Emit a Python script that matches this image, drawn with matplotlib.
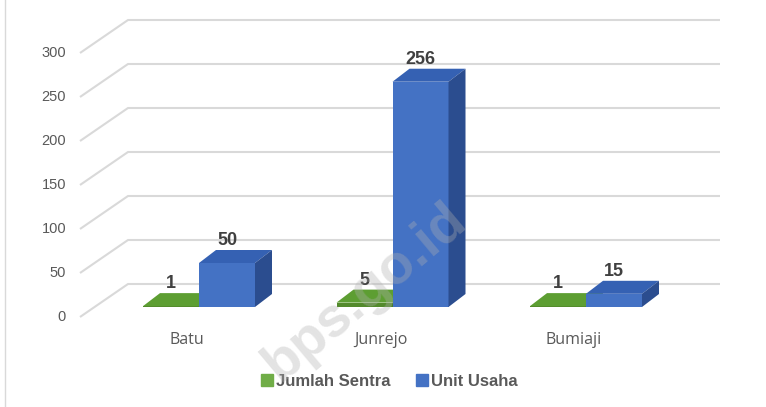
import matplotlib
matplotlib.use("Agg")
import matplotlib.pyplot as plt
from matplotlib.patches import Polygon
from matplotlib.lines import Line2D

categories = ["Batu", "Junrejo", "Bumiaji"]
jumlah_sentra = [1, 5, 1]
unit_usaha = [50, 256, 15]
y_ticks = [0, 50, 100, 150, 200, 250, 300]

W, H = 766, 407
fig = plt.figure(figsize=(W / 100, H / 100), dpi=100)
ax = fig.add_axes([0, 0, 1, 1])
ax.axis("off")

# data-space frame: 1 category = 193.5 px, 1 unit = 0.88 px
xpx, ypx = 193.5, 0.88
x0px, y0px = 187, 317
ax.set_xlim(-x0px / xpx, (W - x0px) / xpx)
ax.set_ylim(-(H - y0px) / ypx, y0px / ypx)

# perspective offsets (in data units)
wall_dx, wall_dy = 48 / xpx, 33 / ypx      # front plane -> back wall
bar_ox, bar_oy = 12 / xpx, 10 / ypx        # front plane -> bar front face
dep_dx, dep_dy = 17 / xpx, 13 / ypx        # bar depth
bw = 56 / xpx                               # bar width
front_left = (80 - x0px) / xpx
back_right = (720 - x0px) / xpx

grid_c = "#d9d9d9"
for t in y_ticks:
    ax.plot([front_left, front_left + wall_dx, back_right],
            [t, t + wall_dy, t + wall_dy], color=grid_c, lw=1.5, zorder=1,
            solid_capstyle="butt")
    ax.text(front_left - 14 / xpx, t, str(t), ha="right", va="center",
            fontsize=10.5, color="#595959", family="Liberation Sans")

series = [
    (jumlah_sentra, -bw, "#538a2c", "#5d9e32", "#3f6d21"),
    (unit_usaha, 0.0, "#4472c4", "#3561b3", "#2b4d8f"),
]

for i, cat in enumerate(categories):
    ax.text(i, -23 / ypx, cat, ha="center", va="center", fontsize=11.5,
            color="#595959", family="Open Sans")
    for vals, off, c_front, c_top, c_side in series:
        v = vals[i]
        x0 = i + bar_ox + off
        x1 = x0 + bw
        ax.bar(x0, v, width=bw, bottom=bar_oy, align="edge", color=c_front,
               lw=0, zorder=3)
        yt = bar_oy + v
        ax.add_patch(Polygon([(x0, yt), (x1, yt), (x1 + dep_dx, yt + dep_dy),
                              (x0 + dep_dx, yt + dep_dy)], closed=True,
                             fc=c_top, lw=0, zorder=3))
        ax.add_patch(Polygon([(x1, bar_oy), (x1 + dep_dx, bar_oy + dep_dy),
                              (x1 + dep_dx, yt + dep_dy), (x1, yt)], closed=True,
                             fc=c_side, lw=0, zorder=3))
        ax.text((x0 + x1) / 2, yt + dep_dy + 1 / ypx, str(v), ha="center",
                va="bottom", fontsize=13, fontweight="bold", color="#404040",
                family="Liberation Sans", zorder=5)

# legend
handles = [Line2D([], [], marker="s", ls="", ms=8, mfc="#70ad47", mec="#70ad47"),
           Line2D([], [], marker="s", ls="", ms=8, mfc="#4472c4", mec="#4472c4")]
leg = fig.legend(handles, ["Jumlah Sentra", "Unit Usaha"], loc="center",
                 bbox_to_anchor=(390 / W, 1 - 381 / H), ncol=2, frameon=False,
                 handlelength=0.6, handletextpad=0.25, columnspacing=1.6,
                 prop={"family": "Liberation Sans", "weight": "bold", "size": 12})
for t in leg.get_texts():
    t.set_color("#595959")

# watermark
fig.text(365 / W, 1 - 293 / H, "bps.go.id", rotation=40, ha="center",
         va="center", fontsize=40, fontweight="bold", color="#b0b0b0",
         alpha=0.35, family="Liberation Sans", zorder=10)

fig.add_artist(Line2D([5 / W, 5 / W], [0, 1], color="#d9d9d9", lw=1))

fig.savefig("out.png", dpi=100)
